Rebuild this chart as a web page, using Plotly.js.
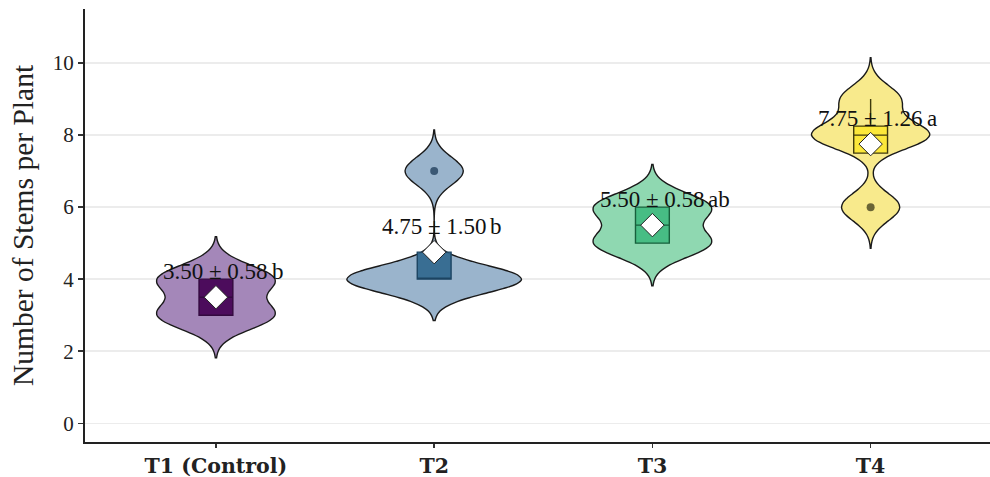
<!DOCTYPE html>
<html><head><meta charset="utf-8">
<script src="https://cdn.plot.ly/plotly-3.0.1.min.js"></script>
<style>html,body{margin:0;padding:0;background:#fff}</style>
</head><body><div id="chart" style="width:990px;height:477px"></div>
<script>
// ---- data ----
const categories = ['T1 (Control)', 'T2', 'T3', 'T4'];
const valuesT1 = [3, 3, 4, 4];
const valuesT2 = [4, 4, 4, 7];
const valuesT3 = [5, 5, 6, 6];
const valuesT4 = [6, 8, 8, 9];
const letters = ['b', 'b', 'ab', 'a'];
const yTickValues = [0, 2, 4, 6, 8, 10];

// ---- styles ----
const violinFill = ['#a487b9', '#9ab4cc', '#8fd8b1', '#f8ea8c'];
const boxFill = ['rgba(68,1,84,0.92)', 'rgba(49,104,142,0.92)', 'rgba(53,183,121,0.8)', 'rgba(253,231,37,0.8)'];
const boxLine = ['#33093f', '#1c4462', '#17603c', '#3f3a0c'];
const outlierColor = ['#33093f', '#3b5874', '#17603c', '#6a6535'];
const serif = 'Liberation Serif, Times New Roman, serif';
const maxViolinWidth = 0.8;

// ---- stats helpers (ggplot-like) ----
const groups = [valuesT1, valuesT2, valuesT3, valuesT4];
const mean = a => a.reduce((s, v) => s + v, 0) / a.length;
const sd = a => { const m = mean(a); return Math.sqrt(a.reduce((s, v) => s + (v - m) ** 2, 0) / (a.length - 1)); };
const quant7 = (a, p) => { const s = [...a].sort((x, y) => x - y); const h = (s.length - 1) * p; const lo = Math.floor(h); const hi = Math.min(lo + 1, s.length - 1); return s[lo] + (h - lo) * (s[hi] - s[lo]); };
const nrd0 = a => { const iqr = quant7(a, 0.75) - quant7(a, 0.25); const lo = Math.min(sd(a), iqr / 1.34); return 0.9 * lo * Math.pow(a.length, -0.2); };
const kdeMax = (a, bw) => {
  let best = 0;
  const lo = Math.min(...a) - 3 * bw, hi = Math.max(...a) + 3 * bw;
  for (let k = 0; k <= 600; k++) {
    const t = lo + (hi - lo) * k / 600;
    let d = 0;
    a.forEach(v => { const z = (t - v) / bw; d += Math.exp(-0.5 * z * z); });
    d /= a.length * bw * Math.sqrt(2 * Math.PI);
    if (d > best) best = d;
  }
  return best;
};

const bws = groups.map(nrd0);
const peaks = groups.map((g, i) => kdeMax(g, bws[i]));
const peakAll = Math.max(...peaks);

const traces = [];
const annotations = [];
groups.forEach((vals, i) => {
  const cat = categories[i];
  const bw = bws[i];
  traces.push({
    type: 'violin', x: vals.map(() => cat), y: vals,
    fillcolor: violinFill[i], line: { color: '#1a1a1a', width: 1.4 },
    points: false, box: { visible: false }, meanline: { visible: false },
    width: maxViolinWidth * peaks[i] / peakAll, scalegroup: 'g' + i, scalemode: 'width',
    bandwidth: bw, spanmode: 'manual', span: [Math.min(...vals) - 3 * bw, Math.max(...vals) + 3 * bw],
    hoverinfo: 'skip', showlegend: false
  });
});
groups.forEach((vals, i) => {
  const cat = categories[i];
  const q1 = quant7(vals, 0.25), med = quant7(vals, 0.5), q3 = quant7(vals, 0.75);
  const iqr = q3 - q1;
  const inside = vals.filter(v => v >= q1 - 1.5 * iqr && v <= q3 + 1.5 * iqr);
  const lf = Math.min(q1, Math.min(...inside));
  const uf = Math.max(q3, Math.max(...inside));
  traces.push({
    type: 'box', x: [cat], q1: [q1], median: [med], q3: [q3], lowerfence: [lf], upperfence: [uf],
    width: 0.155, whiskerwidth: 0, fillcolor: boxFill[i], line: { color: boxLine[i], width: 1.4 },
    boxpoints: false, hoverinfo: 'skip', showlegend: false
  });
  const outs = vals.filter(v => v < q1 - 1.5 * iqr || v > q3 + 1.5 * iqr);
  if (outs.length) traces.push({
    type: 'scatter', mode: 'markers', x: outs.map(() => cat), y: outs,
    marker: { color: outlierColor[i], size: 8 }, hoverinfo: 'skip', showlegend: false
  });
});
traces.push({
  type: 'scatter', mode: 'markers', x: categories, y: groups.map(mean),
  marker: { symbol: 'diamond', size: 18, color: '#ffffff', line: { color: '#222', width: 1 } },
  hoverinfo: 'skip', showlegend: false
});
groups.forEach((vals, i) => {
  const m = mean(vals), s = sd(vals);
  const yPos = m + 0.32;
  annotations.push({
    x: categories[i], y: yPos, xref: 'x', yref: 'y', yanchor: 'bottom', xanchor: 'center',
    text: m.toFixed(2) + ' ± ' + s.toFixed(2), showarrow: false,
    font: { family: serif, size: 23, color: '#111' }
  });
  annotations.push({
    x: categories[i], y: yPos, xref: 'x', yref: 'y', yanchor: 'bottom', xanchor: 'left', xshift: 54,
    text: letters[i], showarrow: false,
    font: { family: serif, size: 23, color: '#111' }
  });
});

const layout = {
  width: 990, height: 477,
  margin: { l: 85, r: 0, t: 9, b: 35 },
  paper_bgcolor: '#fff', plot_bgcolor: '#fff',
  violinmode: 'overlay', boxmode: 'overlay', showlegend: false,
  xaxis: {
    type: 'category', categoryorder: 'array', categoryarray: categories,
    range: [-0.6, 3.547], showline: true, linecolor: '#222', linewidth: 2,
    ticks: 'outside', ticklen: 4, tickwidth: 1.5, tickcolor: '#333',
    showgrid: false, zeroline: false,
    tickfont: { family: 'DejaVu Serif, serif', size: 20.5, weight: 'bold', color: '#222' }
  },
  yaxis: {
    range: [-0.52, 11.5], tickvals: yTickValues, ticktext: yTickValues.map(String),
    showline: true, linecolor: '#222', linewidth: 2,
    ticks: 'outside', ticklen: 5, tickwidth: 1.5, tickcolor: '#333',
    showgrid: true, gridcolor: '#ececec', gridwidth: 1.5, zeroline: false,
    tickfont: { family: serif, size: 21, color: '#222' },
    title: { text: 'Number of Stems per Plant', font: { family: serif, size: 29.5, color: '#222' }, standoff: 10 }
  },
  annotations: annotations
};
Plotly.newPlot('chart', traces, layout, { staticPlot: true, displayModeBar: false });
</script></body></html>
